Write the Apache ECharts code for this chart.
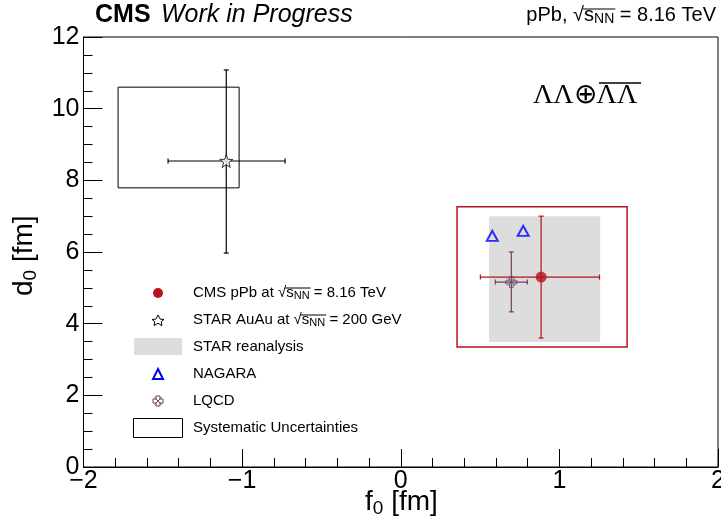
<!DOCTYPE html>
<html>
<head>
<meta charset="utf-8">
<script src="https://cdn.jsdelivr.net/npm/echarts@6/dist/echarts.min.js"></script>
<style>
html, body { margin: 0; padding: 0; background: #fff; }
#chart { width: 721px; height: 524px; }
</style>
</head>
<body>
<div id="chart"></div>
<script>
// axis ranges
var xRange = [-2, 2];
var yRange = [0, 12];

// [x, y, xLow, xHigh, yLow, yHigh]
var cmsPoint = [0.885, 5.30, 0.502, 1.253, 3.60, 7.00];
var starPoint = [-1.10, 8.54, -1.467, -0.729, 5.97, 11.08];
var lqcdPoint = [0.697, 5.16, 0.596, 0.798, 4.33, 6.00];
var nagaraPoints = [[0.577, 6.45], [0.772, 6.59]];

// boxes: [xLow, xHigh, yLow, yHigh]
var cmsSyst = [0.355, 1.427, 3.35, 7.26];
var starSyst = [-1.782, -1.019, 7.79, 10.60];
var reanalysisBand = [0.557, 1.257, 3.49, 7.00];

var red = '#b5121b';
var purple = '#6e3d66';
var blue = '#0000ff';
var starPath = 'path://M0,-10 L2.35,-3.24 L9.51,-3.09 L3.8,1.24 L5.88,8.09 L0,4 L-5.88,8.09 L-3.8,1.24 L-9.51,-3.09 L-2.35,-3.24 Z';
var lqcdPath = 'path://M-2,-6 L2,-6 L2,-2 L6,-2 L6,2 L2,2 L2,6 L-2,6 L-2,2 L-6,2 L-6,-2 L-2,-2 Z M-4,-4 L4,4 M4,-4 L-4,4';

var font = 'Liberation Sans, Arial, sans-serif';

// text width helper, used for the sqrt overlines
var measureCtx = document.createElement('canvas').getContext('2d');
function tw(text, size) {
    measureCtx.font = size + 'px ' + font;
    return measureCtx.measureText(text).width;
}

function boxSeries(box, fill, stroke, lw) {
    return {
        type: 'custom',
        data: [box],
        encode: { x: [0, 1], y: [2, 3] },
        silent: true,
        renderItem: function (params, api) {
            var a = api.coord([api.value(0), api.value(3)]);
            var b = api.coord([api.value(1), api.value(2)]);
            return {
                type: 'rect',
                shape: { x: a[0], y: a[1], width: b[0] - a[0], height: b[1] - a[1] },
                style: { fill: fill, stroke: stroke, lineWidth: lw }
            };
        }
    };
}

function errSeries(pt, color) {
    return {
        type: 'custom',
        data: [pt],
        encode: { x: [0, 2, 3], y: [1, 4, 5] },
        silent: true,
        renderItem: function (params, api) {
            var c = api.coord([api.value(0), api.value(1)]);
            var xl = api.coord([api.value(2), api.value(1)])[0];
            var xh = api.coord([api.value(3), api.value(1)])[0];
            var yl = api.coord([api.value(0), api.value(4)])[1];
            var yh = api.coord([api.value(0), api.value(5)])[1];
            var st = { stroke: color, lineWidth: 1.2 };
            var cap = 2.5;
            return {
                type: 'group',
                children: [
                    { type: 'line', shape: { x1: xl, y1: c[1], x2: xh, y2: c[1] }, style: st },
                    { type: 'line', shape: { x1: c[0], y1: yl, x2: c[0], y2: yh }, style: st },
                    { type: 'line', shape: { x1: xl, y1: c[1] - cap, x2: xl, y2: c[1] + cap }, style: st },
                    { type: 'line', shape: { x1: xh, y1: c[1] - cap, x2: xh, y2: c[1] + cap }, style: st },
                    { type: 'line', shape: { x1: c[0] - cap, y1: yl, x2: c[0] + cap, y2: yl }, style: st },
                    { type: 'line', shape: { x1: c[0] - cap, y1: yh, x2: c[0] + cap, y2: yh }, style: st }
                ]
            };
        }
    };
}

// text with sqrt(s_NN): returns text element + overline
function sqrtText(x, y, pre, post, size, subSize, anchorRight) {
    var w = tw(pre, size) + tw('\u221A', size) + tw('s', size) + tw('NN', subSize) + tw(post, size);
    var x0 = anchorRight ? x - w : x;
    var ox1 = x0 + tw(pre, size) + tw('\u221A', size) - 1;
    var ox2 = ox1 + 1 + tw('s', size) + tw('NN', subSize) + 1;
    var oy = y + Math.round(size * 0.22);
    return [
        { type: 'text', left: x0, top: y, style: {
            text: '{t|' + pre + '\u221A}{t|s}{sub|NN}{t|' + post + '}',
            rich: {
                t: { fontFamily: font, fontSize: size, color: '#000' },
                sub: { fontFamily: font, fontSize: subSize, color: '#000', verticalAlign: 'bottom', padding: [Math.round(size * 0.45), 0, 0, 0] }
            }
        } },
        { type: 'line', shape: { x1: ox1, y1: oy, x2: ox2, y2: oy }, style: { stroke: '#000', lineWidth: 1 } }
    ];
}

var legSize = 15;
var legText = { fontFamily: font, fontSize: legSize, fill: '#000' };
var legendRows = [293, 320, 347, 374, 401, 428];

var graphics = [
    // header
    { type: 'text', left: 95, top: 3, style: { text: 'CMS', fontFamily: font, fontSize: 25, fontWeight: 'bold', fill: '#000' } },
    { type: 'text', left: 161, top: 3, style: { text: 'Work in Progress', fontFamily: font, fontSize: 25, fontStyle: 'italic', fill: '#000' } },
    // lambda label
    { type: 'text', left: 533, top: 82, style: { text: '\u039B\u039B\u2295\u039B\u039B', fontFamily: 'Liberation Serif, Times New Roman, serif', fontSize: 28, fill: '#000' } },
    { type: 'line', shape: { x1: 599, y1: 83, x2: 641, y2: 83 }, style: { stroke: '#000', lineWidth: 1.5 } },
    // axis titles
    { type: 'text', left: 365, top: 488, style: {
        text: '{t|f}{s|0}{t| [fm]}',
        rich: {
            t: { fontFamily: font, fontSize: 28, color: '#000' },
            s: { fontFamily: font, fontSize: 19, color: '#000', verticalAlign: 'bottom', padding: [13, 0, 0, 0] }
        }
    } },
    { type: 'text', x: 8, y: 296, rotation: Math.PI / 2, style: {
        text: '{t|d}{s|0}{t| [fm]}',
        rich: {
            t: { fontFamily: font, fontSize: 28, color: '#000' },
            s: { fontFamily: font, fontSize: 19, color: '#000', verticalAlign: 'bottom', padding: [13, 0, 0, 0] }
        }
    } },
    // legend markers
    { type: 'circle', shape: { cx: 158, cy: legendRows[0], r: 5 }, style: { fill: red } },
    { type: 'polygon', shape: { points: [[158, 315], [160.2, 319.2], [164, 319.4], [161.3, 321.6], [161.9, 325.6], [158, 323.2], [154.1, 325.6], [154.7, 321.6], [152, 319.4], [155.8, 319.2]] }, style: { fill: '#fff', stroke: '#000', lineWidth: 1 } },
    { type: 'rect', shape: { x: 134, y: 338, width: 48, height: 17 }, style: { fill: '#dddddd' } },
    { type: 'polygon', shape: { points: [[158, 369], [163, 379], [153, 379]] }, style: { fill: 'none', stroke: blue, lineWidth: 2 } },
    { type: 'group', x: 158, y: legendRows[4], children: [
        { type: 'polygon', shape: { points: [[-2, -5], [2, -5], [2, -2], [5, -2], [5, 2], [2, 2], [2, 5], [-2, 5], [-2, 2], [-5, 2], [-5, -2], [-2, -2]] }, style: { fill: 'none', stroke: purple, lineWidth: 1 } },
        { type: 'line', shape: { x1: -3.5, y1: -3.5, x2: 3.5, y2: 3.5 }, style: { stroke: purple } },
        { type: 'line', shape: { x1: 3.5, y1: -3.5, x2: -3.5, y2: 3.5 }, style: { stroke: purple } }
    ] },
    { type: 'rect', shape: { x: 133.5, y: 418.5, width: 49, height: 19 }, style: { fill: 'none', stroke: '#000', lineWidth: 1 } },
    // legend texts
    { type: 'text', left: 193, top: legendRows[2] - 8, style: Object.assign({ text: 'STAR reanalysis' }, legText) },
    { type: 'text', left: 193, top: legendRows[3] - 8, style: Object.assign({ text: 'NAGARA' }, legText) },
    { type: 'text', left: 193, top: legendRows[4] - 8, style: Object.assign({ text: 'LQCD' }, legText) },
    { type: 'text', left: 193, top: legendRows[5] - 8, style: Object.assign({ text: 'Systematic Uncertainties' }, legText) }
];
graphics = graphics
    .concat(sqrtText(716, 5, 'pPb, ', ' = 8.16 TeV', 20, 14, true))
    .concat(sqrtText(193, legendRows[0] - 8, 'CMS pPb at ', ' = 8.16 TeV', legSize, 11, false))
    .concat(sqrtText(193, legendRows[1] - 8, 'STAR AuAu at ', ' = 200 GeV', legSize, 11, false));

var dom = document.getElementById('chart');
var myChart = echarts.init(dom);
var option = {
    backgroundColor: '#fff',
    animation: false,
    grid: {
        left: 83.5, right: 3, top: 37, bottom: 57,
        containLabel: false, outerBoundsMode: 'none',
        show: true, borderColor: '#000', borderWidth: 1, backgroundColor: 'transparent'
    },
    xAxis: {
        type: 'value', min: xRange[0], max: xRange[1], interval: 1,
        axisLine: { onZero: false, lineStyle: { color: '#000', width: 1 } },
        axisTick: { inside: true, length: 18, lineStyle: { color: '#000' } },
        minorTick: { show: true, splitNumber: 5, length: 9, lineStyle: { color: '#000' } },
        splitLine: { show: false },
        axisLabel: {
            fontFamily: font, fontSize: 25, color: '#000', margin: 2,
            formatter: function (v) { return v < 0 ? '\u2212' + Math.abs(v) : String(v); }
        }
    },
    yAxis: {
        type: 'value', min: yRange[0], max: yRange[1], interval: 2,
        axisLine: { onZero: false, lineStyle: { color: '#000', width: 1 } },
        axisTick: { inside: true, length: 19, lineStyle: { color: '#000' } },
        minorTick: { show: true, splitNumber: 4, length: 9, lineStyle: { color: '#000' } },
        splitLine: { show: false },
        axisLabel: { fontFamily: font, fontSize: 25, color: '#000', margin: 4 }
    },
    series: [
        boxSeries(reanalysisBand, '#dddddd', 'none', 0),
        boxSeries(starSyst, 'none', '#000', 1),
        boxSeries(cmsSyst, 'none', red, 1.5),
        errSeries(starPoint, '#000'),
        errSeries(cmsPoint, red),
        errSeries(lqcdPoint, purple),
        {
            type: 'scatter', data: [[starPoint[0], starPoint[1]]], symbol: starPath, symbolSize: 13,
            itemStyle: { color: '#fff', borderColor: '#000', borderWidth: 1 }, silent: true
        },
        {
            type: 'scatter', data: [[cmsPoint[0], cmsPoint[1]]], symbol: 'circle', symbolSize: 11,
            itemStyle: { color: red }, silent: true
        },
        {
            type: 'scatter', data: nagaraPoints, symbol: 'triangle', symbolSize: [11, 10],
            itemStyle: { color: 'rgba(0,0,0,0)', borderColor: blue, borderWidth: 2 }, silent: true
        },
        {
            type: 'scatter', data: [[lqcdPoint[0], lqcdPoint[1]]], symbol: lqcdPath, symbolSize: 11,
            itemStyle: { color: 'rgba(0,0,0,0)', borderColor: purple, borderWidth: 1 }, silent: true
        }
    ],
    graphic: graphics
};
if (option && typeof option === "object") {
    myChart.setOption(option, true);
    window.onresize = myChart.resize;
}
</script>
</body>
</html>
